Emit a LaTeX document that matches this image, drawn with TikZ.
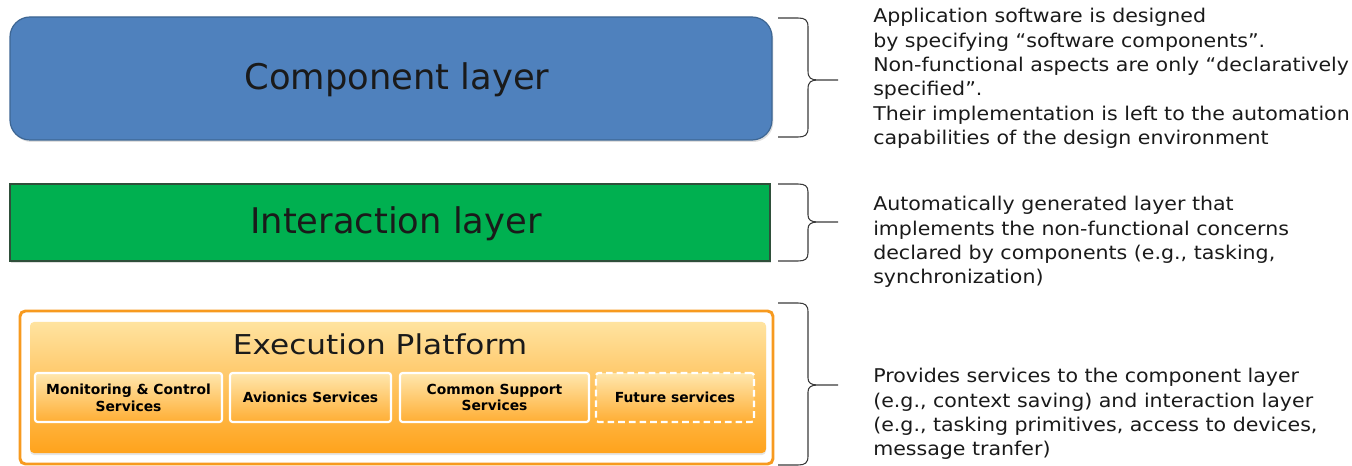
\documentclass[tikz,border=0pt]{standalone}
\usepackage{fontspec}
\setmainfont{DejaVu Sans}
\newfontfamily\descfont{DejaVu Sans}[FakeStretch=1.085]
\newfontfamily\platfont{DejaVu Sans}[FakeStretch=1.14]
\usetikzlibrary{shadows}
\definecolor{compblue}{HTML}{4F81BD}
\definecolor{compborder}{HTML}{3D6693}
\definecolor{intgreen}{HTML}{00B050}
\definecolor{intborder}{HTML}{2F4F3A}
\definecolor{orangeborder}{HTML}{F79A1F}
\definecolor{platlight}{HTML}{FFE3A0}
\definecolor{platdark}{HTML}{FFA31C}
\definecolor{sublight}{HTML}{FFE7AE}
\definecolor{subdark}{HTML}{FFAE34}
\definecolor{bracegray}{HTML}{3A3A3A}
\definecolor{textdark}{HTML}{1A1A1A}
\tikzset{
  layerbox/.style={draw, line width=0.9pt, inner sep=0pt, drop shadow={shadow xshift=1pt, shadow yshift=-1.5pt, opacity=0.25}},
  bigtext/.style={text=textdark, font=\fontsize{26.5}{30}\selectfont},
  subbox/.style={draw=white, line width=1.6pt, rounded corners=2pt, top color=sublight, bottom color=subdark, inner sep=0pt, minimum height=36.75pt, align=center, font=\fontsize{10.4}{12.6}\selectfont\bfseries},
  desc/.style={anchor=north west, inner sep=0pt, align=left, text=textdark, font=\descfont\fontsize{14.2}{18.3}\selectfont},
  bracepath/.style={draw=bracegray, line width=0.8pt}
}
\begin{document}
\begin{tikzpicture}[x=0.75pt,y=-0.75pt]
\useasboundingbox (0,0) rectangle (1352,466);

% Component layer
\node[layerbox, draw=compborder, fill=compblue, rounded corners=15pt, minimum width=571.5pt, minimum height=92.25pt] (comp) at (391,78.5) {};
\node[bigtext] (compt) at (397,80) {Component layer};

% Interaction layer
\node[layerbox, draw=intborder, fill=intgreen, minimum width=570pt, minimum height=57.75pt] (inter) at (390,222.5) {};
\node[bigtext] (intert) at (396,224) {Interaction layer};

% Execution platform
\node[draw=orangeborder, line width=2.2pt, fill=white, rounded corners=4pt, minimum width=564.75pt, minimum height=114.75pt, inner sep=0pt] (plat) at (396.5,387.5) {};
\node[rounded corners=3pt, top color=platlight, bottom color=platdark, minimum width=552pt, minimum height=98.25pt, inner sep=0pt, drop shadow={shadow xshift=0pt, shadow yshift=-1.5pt, opacity=0.2}] (platin) at (398,387.5) {};
\node[text=textdark, font=\platfont\fontsize{20.5}{23}\selectfont] (platt) at (380,344) {Execution Platform};

\node[subbox, minimum width=140.25pt] (s1) at (128.5,397.5) {Monitoring \& Control\\Services};
\node[subbox, minimum width=120.75pt] (s2) at (310.5,397.5) {Avionics Services};
\node[subbox, minimum width=141.75pt] (s3) at (494.5,397.5) {Common Support\\Services};
\node[subbox, dashed, dash pattern=on 5pt off 3pt, minimum width=118.5pt] (s4) at (675,397.5) {Future services};

% Braces
\draw[bracepath] (778,18) -- (798,18) .. controls (805,18) and (808,20) .. (808,27)
  -- (808,71) .. controls (808,78) and (811,80) .. (818,80) -- (838,80)
  (818,80) .. controls (811,80) and (808,82) .. (808,89)
  -- (808,128) .. controls (808,135) and (805,137) .. (798,137) -- (778,137);
\draw[bracepath] (778,184) -- (798,184) .. controls (805,184) and (808,186) .. (808,192)
  -- (808,215) .. controls (808,220) and (811,222) .. (818,222) -- (838,222)
  (818,222) .. controls (811,222) and (808,224) .. (808,229)
  -- (808,253) .. controls (808,259) and (805,261) .. (798,261) -- (778,261);
\draw[bracepath] (778,303) -- (798,303) .. controls (805,303) and (808,305) .. (808,312)
  -- (808,378) .. controls (808,383) and (811,385) .. (818,385) -- (838,385)
  (818,385) .. controls (811,385) and (808,387) .. (808,392)
  -- (808,456) .. controls (808,463) and (805,465) .. (798,465) -- (778,465);

% Descriptions
\node[desc] (d1) at (873,8) {Application software is designed\\by specifying “software components”.\\Non-functional aspects are only “declaratively\\specified”.\\Their implementation is left to the automation\\capabilities of the design environment};
\node[desc] (d2) at (873,196) {Automatically generated layer that\\implements the non-functional concerns\\declared by components (e.g., tasking,\\synchronization)};
\node[desc] (d3) at (873,368) {Provides services to the component layer\\(e.g., context saving) and interaction layer\\(e.g., tasking primitives, access to devices,\\message tranfer)};
\end{tikzpicture}
\end{document}
